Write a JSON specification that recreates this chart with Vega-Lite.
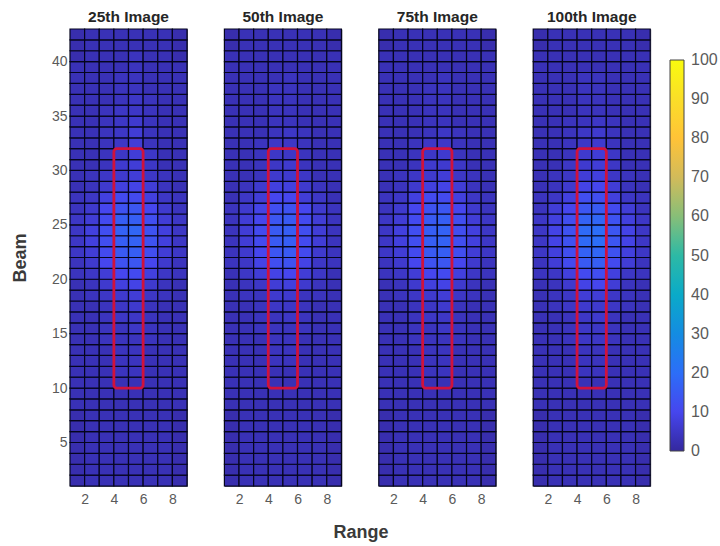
{"$schema":"https://vega.github.io/schema/vega-lite/v6.json","background":"white","autosize":{"type":"pad"},"bounds":"flush","padding":{"left":10,"top":9,"right":0,"bottom":2},"config":{"font":"Liberation Sans","view":{"stroke":"#55556a","strokeWidth":1},"axis":{"ticks":false,"grid":false,"domain":false,"labelColor":"#5a5a5a","labelFontSize":14,"labelFont":"Liberation Sans","titleFont":"Liberation Sans","titleFontWeight":"bold","titleFontSize":18,"titleColor":"#3a3a3a"},"title":{"font":"Liberation Sans","fontWeight":"bold","fontSize":15.5,"color":"#262626","offset":3},"legend":{"labelFont":"Liberation Sans","labelFontSize":16,"labelColor":"#5a5a5a"}},"datasets":{"cells":[
{"x":1,"x2":2,"y":1,"y2":2,"a":2,"b":2,"c":2,"d":2},{"x":2,"x2":3,"y":1,"y2":2,"a":3,"b":3,"c":3,"d":3},{"x":3,"x2":4,"y":1,"y2":2,"a":3,"b":3,"c":3,"d":3},{"x":4,"x2":5,"y":1,"y2":2,"a":3,"b":3,"c":3,"d":3},{"x":5,"x2":6,"y":1,"y2":2,"a":3,"b":3,"c":3,"d":3},{"x":6,"x2":7,"y":1,"y2":2,"a":3,"b":3,"c":3,"d":3},{"x":7,"x2":8,"y":1,"y2":2,"a":3,"b":3,"c":3,"d":3},{"x":8,"x2":9,"y":1,"y2":2,"a":2,"b":2,"c":2,"d":2},
{"x":1,"x2":2,"y":2,"y2":3,"a":2,"b":2,"c":2,"d":2},{"x":2,"x2":3,"y":2,"y2":3,"a":3,"b":3,"c":3,"d":3},{"x":3,"x2":4,"y":2,"y2":3,"a":3,"b":3,"c":3,"d":3},{"x":4,"x2":5,"y":2,"y2":3,"a":3,"b":3,"c":3,"d":3},{"x":5,"x2":6,"y":2,"y2":3,"a":3,"b":3,"c":3,"d":3},{"x":6,"x2":7,"y":2,"y2":3,"a":3,"b":3,"c":3,"d":3},{"x":7,"x2":8,"y":2,"y2":3,"a":3,"b":3,"c":3,"d":3},{"x":8,"x2":9,"y":2,"y2":3,"a":2,"b":2,"c":2,"d":2},
{"x":1,"x2":2,"y":3,"y2":4,"a":2,"b":2,"c":2,"d":2},{"x":2,"x2":3,"y":3,"y2":4,"a":3,"b":3,"c":3,"d":3},{"x":3,"x2":4,"y":3,"y2":4,"a":3,"b":3,"c":3,"d":3},{"x":4,"x2":5,"y":3,"y2":4,"a":3,"b":3,"c":3,"d":3},{"x":5,"x2":6,"y":3,"y2":4,"a":3,"b":3,"c":3,"d":3},{"x":6,"x2":7,"y":3,"y2":4,"a":3,"b":3,"c":3,"d":3},{"x":7,"x2":8,"y":3,"y2":4,"a":3,"b":3,"c":3,"d":3},{"x":8,"x2":9,"y":3,"y2":4,"a":2,"b":2,"c":2,"d":2},
{"x":1,"x2":2,"y":4,"y2":5,"a":2,"b":2,"c":2,"d":2},{"x":2,"x2":3,"y":4,"y2":5,"a":3,"b":3,"c":3,"d":3},{"x":3,"x2":4,"y":4,"y2":5,"a":3,"b":3,"c":3,"d":3},{"x":4,"x2":5,"y":4,"y2":5,"a":3,"b":3,"c":3,"d":3},{"x":5,"x2":6,"y":4,"y2":5,"a":3,"b":3,"c":3,"d":3},{"x":6,"x2":7,"y":4,"y2":5,"a":3,"b":3,"c":3,"d":3},{"x":7,"x2":8,"y":4,"y2":5,"a":3,"b":3,"c":3,"d":3},{"x":8,"x2":9,"y":4,"y2":5,"a":2,"b":2,"c":2,"d":2},
{"x":1,"x2":2,"y":5,"y2":6,"a":2,"b":2,"c":2,"d":2},{"x":2,"x2":3,"y":5,"y2":6,"a":3,"b":3,"c":3,"d":3},{"x":3,"x2":4,"y":5,"y2":6,"a":3,"b":3,"c":3,"d":3},{"x":4,"x2":5,"y":5,"y2":6,"a":3,"b":3,"c":3,"d":3},{"x":5,"x2":6,"y":5,"y2":6,"a":3,"b":3,"c":3,"d":3},{"x":6,"x2":7,"y":5,"y2":6,"a":3,"b":3,"c":3,"d":3},{"x":7,"x2":8,"y":5,"y2":6,"a":3,"b":3,"c":3,"d":3},{"x":8,"x2":9,"y":5,"y2":6,"a":2,"b":2,"c":2,"d":2},
{"x":1,"x2":2,"y":6,"y2":7,"a":2,"b":2,"c":2,"d":2},{"x":2,"x2":3,"y":6,"y2":7,"a":3,"b":3,"c":3,"d":3},{"x":3,"x2":4,"y":6,"y2":7,"a":3,"b":3,"c":3,"d":3},{"x":4,"x2":5,"y":6,"y2":7,"a":3,"b":3,"c":3,"d":3},{"x":5,"x2":6,"y":6,"y2":7,"a":3,"b":3,"c":3,"d":3},{"x":6,"x2":7,"y":6,"y2":7,"a":3,"b":3,"c":3,"d":3},{"x":7,"x2":8,"y":6,"y2":7,"a":3,"b":3,"c":3,"d":3},{"x":8,"x2":9,"y":6,"y2":7,"a":2,"b":2,"c":2,"d":2},
{"x":1,"x2":2,"y":7,"y2":8,"a":2,"b":2,"c":2,"d":2},{"x":2,"x2":3,"y":7,"y2":8,"a":3,"b":3,"c":3,"d":3},{"x":3,"x2":4,"y":7,"y2":8,"a":3,"b":3,"c":3,"d":3},{"x":4,"x2":5,"y":7,"y2":8,"a":3,"b":3,"c":3,"d":3},{"x":5,"x2":6,"y":7,"y2":8,"a":3,"b":3,"c":3,"d":3},{"x":6,"x2":7,"y":7,"y2":8,"a":3,"b":3,"c":3,"d":3},{"x":7,"x2":8,"y":7,"y2":8,"a":3,"b":3,"c":3,"d":3},{"x":8,"x2":9,"y":7,"y2":8,"a":2,"b":2,"c":2,"d":2},
{"x":1,"x2":2,"y":8,"y2":9,"a":3,"b":3,"c":3,"d":3},{"x":2,"x2":3,"y":8,"y2":9,"a":3,"b":3,"c":3,"d":3},{"x":3,"x2":4,"y":8,"y2":9,"a":3,"b":3,"c":3,"d":3},{"x":4,"x2":5,"y":8,"y2":9,"a":3,"b":3,"c":3,"d":3},{"x":5,"x2":6,"y":8,"y2":9,"a":3,"b":3,"c":3,"d":3},{"x":6,"x2":7,"y":8,"y2":9,"a":3,"b":3,"c":3,"d":3},{"x":7,"x2":8,"y":8,"y2":9,"a":3,"b":3,"c":3,"d":3},{"x":8,"x2":9,"y":8,"y2":9,"a":3,"b":3,"c":3,"d":3},
{"x":1,"x2":2,"y":9,"y2":10,"a":3,"b":3,"c":3,"d":3},{"x":2,"x2":3,"y":9,"y2":10,"a":3,"b":3,"c":3,"d":3},{"x":3,"x2":4,"y":9,"y2":10,"a":3,"b":3,"c":3,"d":3},{"x":4,"x2":5,"y":9,"y2":10,"a":3,"b":3,"c":3,"d":3},{"x":5,"x2":6,"y":9,"y2":10,"a":3,"b":3,"c":3,"d":3},{"x":6,"x2":7,"y":9,"y2":10,"a":3,"b":3,"c":3,"d":3},{"x":7,"x2":8,"y":9,"y2":10,"a":3,"b":3,"c":3,"d":3},{"x":8,"x2":9,"y":9,"y2":10,"a":3,"b":3,"c":3,"d":3},
{"x":1,"x2":2,"y":10,"y2":11,"a":3,"b":3,"c":3,"d":3},{"x":2,"x2":3,"y":10,"y2":11,"a":3,"b":3,"c":3,"d":3},{"x":3,"x2":4,"y":10,"y2":11,"a":3,"b":3,"c":3,"d":3},{"x":4,"x2":5,"y":10,"y2":11,"a":3,"b":3,"c":3,"d":3},{"x":5,"x2":6,"y":10,"y2":11,"a":3,"b":3,"c":3,"d":3},{"x":6,"x2":7,"y":10,"y2":11,"a":3,"b":3,"c":3,"d":3},{"x":7,"x2":8,"y":10,"y2":11,"a":3,"b":3,"c":3,"d":3},{"x":8,"x2":9,"y":10,"y2":11,"a":3,"b":3,"c":3,"d":3},
{"x":1,"x2":2,"y":11,"y2":12,"a":3,"b":3,"c":3,"d":3},{"x":2,"x2":3,"y":11,"y2":12,"a":3,"b":3,"c":3,"d":3},{"x":3,"x2":4,"y":11,"y2":12,"a":3,"b":3,"c":3,"d":3},{"x":4,"x2":5,"y":11,"y2":12,"a":4,"b":3,"c":4,"d":4},{"x":5,"x2":6,"y":11,"y2":12,"a":4,"b":3,"c":4,"d":4},{"x":6,"x2":7,"y":11,"y2":12,"a":3,"b":3,"c":3,"d":3},{"x":7,"x2":8,"y":11,"y2":12,"a":3,"b":3,"c":3,"d":3},{"x":8,"x2":9,"y":11,"y2":12,"a":3,"b":3,"c":3,"d":3},
{"x":1,"x2":2,"y":12,"y2":13,"a":3,"b":3,"c":3,"d":3},{"x":2,"x2":3,"y":12,"y2":13,"a":3,"b":3,"c":3,"d":3},{"x":3,"x2":4,"y":12,"y2":13,"a":3,"b":3,"c":3,"d":3},{"x":4,"x2":5,"y":12,"y2":13,"a":4,"b":4,"c":4,"d":4},{"x":5,"x2":6,"y":12,"y2":13,"a":4,"b":4,"c":4,"d":4},{"x":6,"x2":7,"y":12,"y2":13,"a":3,"b":3,"c":3,"d":3},{"x":7,"x2":8,"y":12,"y2":13,"a":3,"b":3,"c":3,"d":3},{"x":8,"x2":9,"y":12,"y2":13,"a":3,"b":3,"c":3,"d":3},
{"x":1,"x2":2,"y":13,"y2":14,"a":3,"b":3,"c":3,"d":3},{"x":2,"x2":3,"y":13,"y2":14,"a":3,"b":3,"c":3,"d":3},{"x":3,"x2":4,"y":13,"y2":14,"a":3,"b":3,"c":3,"d":3},{"x":4,"x2":5,"y":13,"y2":14,"a":4,"b":4,"c":4,"d":4},{"x":5,"x2":6,"y":13,"y2":14,"a":4,"b":4,"c":4,"d":4},{"x":6,"x2":7,"y":13,"y2":14,"a":3,"b":3,"c":3,"d":3},{"x":7,"x2":8,"y":13,"y2":14,"a":3,"b":3,"c":3,"d":3},{"x":8,"x2":9,"y":13,"y2":14,"a":3,"b":3,"c":3,"d":3},
{"x":1,"x2":2,"y":14,"y2":15,"a":3,"b":3,"c":3,"d":3},{"x":2,"x2":3,"y":14,"y2":15,"a":3,"b":3,"c":3,"d":3},{"x":3,"x2":4,"y":14,"y2":15,"a":4,"b":3,"c":4,"d":4},{"x":4,"x2":5,"y":14,"y2":15,"a":4,"b":4,"c":4,"d":5},{"x":5,"x2":6,"y":14,"y2":15,"a":4,"b":4,"c":4,"d":5},{"x":6,"x2":7,"y":14,"y2":15,"a":4,"b":3,"c":4,"d":4},{"x":7,"x2":8,"y":14,"y2":15,"a":3,"b":3,"c":3,"d":3},{"x":8,"x2":9,"y":14,"y2":15,"a":3,"b":3,"c":3,"d":3},
{"x":1,"x2":2,"y":15,"y2":16,"a":3,"b":3,"c":3,"d":3},{"x":2,"x2":3,"y":15,"y2":16,"a":3,"b":3,"c":3,"d":3},{"x":3,"x2":4,"y":15,"y2":16,"a":4,"b":4,"c":4,"d":4},{"x":4,"x2":5,"y":15,"y2":16,"a":4,"b":4,"c":4,"d":5},{"x":5,"x2":6,"y":15,"y2":16,"a":5,"b":4,"c":5,"d":5},{"x":6,"x2":7,"y":15,"y2":16,"a":4,"b":4,"c":4,"d":4},{"x":7,"x2":8,"y":15,"y2":16,"a":3,"b":3,"c":3,"d":3},{"x":8,"x2":9,"y":15,"y2":16,"a":3,"b":3,"c":3,"d":3},
{"x":1,"x2":2,"y":16,"y2":17,"a":3,"b":3,"c":3,"d":3},{"x":2,"x2":3,"y":16,"y2":17,"a":3,"b":3,"c":3,"d":3},{"x":3,"x2":4,"y":16,"y2":17,"a":4,"b":4,"c":4,"d":4},{"x":4,"x2":5,"y":16,"y2":17,"a":5,"b":4,"c":5,"d":5},{"x":5,"x2":6,"y":16,"y2":17,"a":5,"b":5,"c":5,"d":6},{"x":6,"x2":7,"y":16,"y2":17,"a":4,"b":4,"c":4,"d":4},{"x":7,"x2":8,"y":16,"y2":17,"a":3,"b":3,"c":3,"d":3},{"x":8,"x2":9,"y":16,"y2":17,"a":3,"b":3,"c":3,"d":3},
{"x":1,"x2":2,"y":17,"y2":18,"a":3,"b":3,"c":3,"d":3},{"x":2,"x2":3,"y":17,"y2":18,"a":3,"b":3,"c":3,"d":4},{"x":3,"x2":4,"y":17,"y2":18,"a":4,"b":4,"c":4,"d":5},{"x":4,"x2":5,"y":17,"y2":18,"a":5,"b":5,"c":5,"d":6},{"x":5,"x2":6,"y":17,"y2":18,"a":6,"b":5,"c":6,"d":6},{"x":6,"x2":7,"y":17,"y2":18,"a":4,"b":4,"c":4,"d":5},{"x":7,"x2":8,"y":17,"y2":18,"a":3,"b":3,"c":3,"d":4},{"x":8,"x2":9,"y":17,"y2":18,"a":3,"b":3,"c":3,"d":3},
{"x":1,"x2":2,"y":18,"y2":19,"a":3,"b":3,"c":3,"d":3},{"x":2,"x2":3,"y":18,"y2":19,"a":4,"b":4,"c":4,"d":4},{"x":3,"x2":4,"y":18,"y2":19,"a":5,"b":4,"c":5,"d":5},{"x":4,"x2":5,"y":18,"y2":19,"a":6,"b":6,"c":6,"d":7},{"x":5,"x2":6,"y":18,"y2":19,"a":7,"b":6,"c":7,"d":7},{"x":6,"x2":7,"y":18,"y2":19,"a":5,"b":4,"c":5,"d":5},{"x":7,"x2":8,"y":18,"y2":19,"a":4,"b":4,"c":4,"d":4},{"x":8,"x2":9,"y":18,"y2":19,"a":3,"b":3,"c":3,"d":3},
{"x":1,"x2":2,"y":19,"y2":20,"a":3,"b":3,"c":3,"d":3},{"x":2,"x2":3,"y":19,"y2":20,"a":4,"b":4,"c":4,"d":4},{"x":3,"x2":4,"y":19,"y2":20,"a":6,"b":5,"c":6,"d":6},{"x":4,"x2":5,"y":19,"y2":20,"a":8,"b":7,"c":8,"d":9},{"x":5,"x2":6,"y":19,"y2":20,"a":9,"b":8,"c":9,"d":10},{"x":6,"x2":7,"y":19,"y2":20,"a":6,"b":6,"c":6,"d":7},{"x":7,"x2":8,"y":19,"y2":20,"a":4,"b":4,"c":4,"d":4},{"x":8,"x2":9,"y":19,"y2":20,"a":3,"b":3,"c":3,"d":3},
{"x":1,"x2":2,"y":20,"y2":21,"a":4,"b":3,"c":4,"d":4},{"x":2,"x2":3,"y":20,"y2":21,"a":5,"b":5,"c":5,"d":5},{"x":3,"x2":4,"y":20,"y2":21,"a":7,"b":7,"c":7,"d":8},{"x":4,"x2":5,"y":20,"y2":21,"a":10,"b":9,"c":10,"d":11},{"x":5,"x2":6,"y":20,"y2":21,"a":11,"b":10,"c":11,"d":12},{"x":6,"x2":7,"y":20,"y2":21,"a":8,"b":7,"c":8,"d":8},{"x":7,"x2":8,"y":20,"y2":21,"a":5,"b":5,"c":5,"d":5},{"x":8,"x2":9,"y":20,"y2":21,"a":4,"b":3,"c":4,"d":4},
{"x":1,"x2":2,"y":21,"y2":22,"a":4,"b":4,"c":4,"d":4},{"x":2,"x2":3,"y":21,"y2":22,"a":6,"b":5,"c":6,"d":7},{"x":3,"x2":4,"y":21,"y2":22,"a":10,"b":9,"c":10,"d":11},{"x":4,"x2":5,"y":21,"y2":22,"a":13,"b":12,"c":13,"d":15},{"x":5,"x2":6,"y":21,"y2":22,"a":14,"b":13,"c":14,"d":16},{"x":6,"x2":7,"y":21,"y2":22,"a":10,"b":9,"c":10,"d":11},{"x":7,"x2":8,"y":21,"y2":22,"a":6,"b":5,"c":6,"d":7},{"x":8,"x2":9,"y":21,"y2":22,"a":4,"b":4,"c":4,"d":4},
{"x":1,"x2":2,"y":22,"y2":23,"a":5,"b":4,"c":5,"d":5},{"x":2,"x2":3,"y":22,"y2":23,"a":7,"b":6,"c":7,"d":8},{"x":3,"x2":4,"y":22,"y2":23,"a":11,"b":10,"c":11,"d":12},{"x":4,"x2":5,"y":22,"y2":23,"a":15,"b":14,"c":15,"d":17},{"x":5,"x2":6,"y":22,"y2":23,"a":16,"b":15,"c":16,"d":18},{"x":6,"x2":7,"y":22,"y2":23,"a":12,"b":11,"c":12,"d":13},{"x":7,"x2":8,"y":22,"y2":23,"a":7,"b":6,"c":7,"d":8},{"x":8,"x2":9,"y":22,"y2":23,"a":5,"b":4,"c":5,"d":5},
{"x":1,"x2":2,"y":23,"y2":24,"a":5,"b":4,"c":5,"d":5},{"x":2,"x2":3,"y":23,"y2":24,"a":8,"b":7,"c":8,"d":9},{"x":3,"x2":4,"y":23,"y2":24,"a":12,"b":11,"c":12,"d":13},{"x":4,"x2":5,"y":23,"y2":24,"a":16,"b":15,"c":16,"d":19},{"x":5,"x2":6,"y":23,"y2":24,"a":17,"b":16,"c":17,"d":20},{"x":6,"x2":7,"y":23,"y2":24,"a":13,"b":11,"c":12,"d":14},{"x":7,"x2":8,"y":23,"y2":24,"a":8,"b":7,"c":8,"d":9},{"x":8,"x2":9,"y":23,"y2":24,"a":5,"b":4,"c":5,"d":5},
{"x":1,"x2":2,"y":24,"y2":25,"a":5,"b":4,"c":5,"d":5},{"x":2,"x2":3,"y":24,"y2":25,"a":8,"b":7,"c":8,"d":9},{"x":3,"x2":4,"y":24,"y2":25,"a":12,"b":11,"c":12,"d":13},{"x":4,"x2":5,"y":24,"y2":25,"a":17,"b":15,"c":16,"d":19},{"x":5,"x2":6,"y":24,"y2":25,"a":18,"b":16,"c":17,"d":20},{"x":6,"x2":7,"y":24,"y2":25,"a":13,"b":12,"c":12,"d":14},{"x":7,"x2":8,"y":24,"y2":25,"a":8,"b":7,"c":8,"d":9},{"x":8,"x2":9,"y":24,"y2":25,"a":5,"b":4,"c":5,"d":5},
{"x":1,"x2":2,"y":25,"y2":26,"a":5,"b":4,"c":5,"d":5},{"x":2,"x2":3,"y":25,"y2":26,"a":7,"b":7,"c":7,"d":8},{"x":3,"x2":4,"y":25,"y2":26,"a":11,"b":10,"c":11,"d":12},{"x":4,"x2":5,"y":25,"y2":26,"a":16,"b":14,"c":15,"d":17},{"x":5,"x2":6,"y":25,"y2":26,"a":16,"b":15,"c":16,"d":18},{"x":6,"x2":7,"y":25,"y2":26,"a":12,"b":11,"c":12,"d":13},{"x":7,"x2":8,"y":25,"y2":26,"a":7,"b":7,"c":7,"d":8},{"x":8,"x2":9,"y":25,"y2":26,"a":5,"b":4,"c":5,"d":5},
{"x":1,"x2":2,"y":26,"y2":27,"a":4,"b":4,"c":4,"d":4},{"x":2,"x2":3,"y":26,"y2":27,"a":6,"b":6,"c":6,"d":7},{"x":3,"x2":4,"y":26,"y2":27,"a":10,"b":9,"c":10,"d":10},{"x":4,"x2":5,"y":26,"y2":27,"a":13,"b":12,"c":13,"d":14},{"x":5,"x2":6,"y":26,"y2":27,"a":14,"b":13,"c":14,"d":15},{"x":6,"x2":7,"y":26,"y2":27,"a":10,"b":10,"c":10,"d":11},{"x":7,"x2":8,"y":26,"y2":27,"a":6,"b":6,"c":6,"d":7},{"x":8,"x2":9,"y":26,"y2":27,"a":4,"b":4,"c":4,"d":4},
{"x":1,"x2":2,"y":27,"y2":28,"a":4,"b":3,"c":4,"d":4},{"x":2,"x2":3,"y":27,"y2":28,"a":5,"b":5,"c":5,"d":5},{"x":3,"x2":4,"y":27,"y2":28,"a":8,"b":7,"c":8,"d":8},{"x":4,"x2":5,"y":27,"y2":28,"a":11,"b":10,"c":11,"d":12},{"x":5,"x2":6,"y":27,"y2":28,"a":11,"b":10,"c":11,"d":12},{"x":6,"x2":7,"y":27,"y2":28,"a":8,"b":7,"c":8,"d":8},{"x":7,"x2":8,"y":27,"y2":28,"a":5,"b":5,"c":5,"d":5},{"x":8,"x2":9,"y":27,"y2":28,"a":4,"b":3,"c":4,"d":4},
{"x":1,"x2":2,"y":28,"y2":29,"a":3,"b":3,"c":3,"d":3},{"x":2,"x2":3,"y":28,"y2":29,"a":4,"b":4,"c":4,"d":4},{"x":3,"x2":4,"y":28,"y2":29,"a":6,"b":6,"c":6,"d":6},{"x":4,"x2":5,"y":28,"y2":29,"a":8,"b":8,"c":8,"d":9},{"x":5,"x2":6,"y":28,"y2":29,"a":9,"b":8,"c":9,"d":10},{"x":6,"x2":7,"y":28,"y2":29,"a":7,"b":6,"c":7,"d":7},{"x":7,"x2":8,"y":28,"y2":29,"a":4,"b":4,"c":4,"d":4},{"x":8,"x2":9,"y":28,"y2":29,"a":3,"b":3,"c":3,"d":3},
{"x":1,"x2":2,"y":29,"y2":30,"a":3,"b":3,"c":3,"d":3},{"x":2,"x2":3,"y":29,"y2":30,"a":4,"b":3,"c":4,"d":4},{"x":3,"x2":4,"y":29,"y2":30,"a":5,"b":4,"c":5,"d":5},{"x":4,"x2":5,"y":29,"y2":30,"a":6,"b":6,"c":6,"d":7},{"x":5,"x2":6,"y":29,"y2":30,"a":7,"b":6,"c":7,"d":8},{"x":6,"x2":7,"y":29,"y2":30,"a":5,"b":5,"c":5,"d":5},{"x":7,"x2":8,"y":29,"y2":30,"a":4,"b":3,"c":4,"d":4},{"x":8,"x2":9,"y":29,"y2":30,"a":3,"b":3,"c":3,"d":3},
{"x":1,"x2":2,"y":30,"y2":31,"a":3,"b":3,"c":3,"d":3},{"x":2,"x2":3,"y":30,"y2":31,"a":3,"b":3,"c":3,"d":3},{"x":3,"x2":4,"y":30,"y2":31,"a":4,"b":4,"c":4,"d":5},{"x":4,"x2":5,"y":30,"y2":31,"a":6,"b":5,"c":6,"d":6},{"x":5,"x2":6,"y":30,"y2":31,"a":7,"b":6,"c":6,"d":7},{"x":6,"x2":7,"y":30,"y2":31,"a":5,"b":4,"c":5,"d":5},{"x":7,"x2":8,"y":30,"y2":31,"a":3,"b":3,"c":3,"d":3},{"x":8,"x2":9,"y":30,"y2":31,"a":3,"b":3,"c":3,"d":3},
{"x":1,"x2":2,"y":31,"y2":32,"a":3,"b":3,"c":3,"d":3},{"x":2,"x2":3,"y":31,"y2":32,"a":3,"b":3,"c":3,"d":3},{"x":3,"x2":4,"y":31,"y2":32,"a":4,"b":4,"c":4,"d":4},{"x":4,"x2":5,"y":31,"y2":32,"a":5,"b":5,"c":5,"d":6},{"x":5,"x2":6,"y":31,"y2":32,"a":7,"b":5,"c":6,"d":7},{"x":6,"x2":7,"y":31,"y2":32,"a":5,"b":4,"c":4,"d":5},{"x":7,"x2":8,"y":31,"y2":32,"a":3,"b":3,"c":3,"d":3},{"x":8,"x2":9,"y":31,"y2":32,"a":3,"b":3,"c":3,"d":3},
{"x":1,"x2":2,"y":32,"y2":33,"a":3,"b":3,"c":3,"d":3},{"x":2,"x2":3,"y":32,"y2":33,"a":3,"b":3,"c":3,"d":3},{"x":3,"x2":4,"y":32,"y2":33,"a":4,"b":4,"c":4,"d":4},{"x":4,"x2":5,"y":32,"y2":33,"a":5,"b":5,"c":5,"d":5},{"x":5,"x2":6,"y":32,"y2":33,"a":7,"b":5,"c":5,"d":6},{"x":6,"x2":7,"y":32,"y2":33,"a":4,"b":4,"c":4,"d":4},{"x":7,"x2":8,"y":32,"y2":33,"a":3,"b":3,"c":3,"d":3},{"x":8,"x2":9,"y":32,"y2":33,"a":3,"b":3,"c":3,"d":3},
{"x":1,"x2":2,"y":33,"y2":34,"a":3,"b":3,"c":3,"d":3},{"x":2,"x2":3,"y":33,"y2":34,"a":3,"b":3,"c":3,"d":3},{"x":3,"x2":4,"y":33,"y2":34,"a":4,"b":3,"c":3,"d":4},{"x":4,"x2":5,"y":33,"y2":34,"a":5,"b":4,"c":4,"d":5},{"x":5,"x2":6,"y":33,"y2":34,"a":7,"b":5,"c":5,"d":6},{"x":6,"x2":7,"y":33,"y2":34,"a":4,"b":4,"c":4,"d":4},{"x":7,"x2":8,"y":33,"y2":34,"a":3,"b":3,"c":3,"d":3},{"x":8,"x2":9,"y":33,"y2":34,"a":3,"b":3,"c":3,"d":3},
{"x":1,"x2":2,"y":34,"y2":35,"a":3,"b":3,"c":3,"d":3},{"x":2,"x2":3,"y":34,"y2":35,"a":3,"b":3,"c":3,"d":3},{"x":3,"x2":4,"y":34,"y2":35,"a":4,"b":3,"c":3,"d":4},{"x":4,"x2":5,"y":34,"y2":35,"a":5,"b":4,"c":4,"d":4},{"x":5,"x2":6,"y":34,"y2":35,"a":6,"b":4,"c":4,"d":5},{"x":6,"x2":7,"y":34,"y2":35,"a":4,"b":3,"c":3,"d":4},{"x":7,"x2":8,"y":34,"y2":35,"a":3,"b":3,"c":3,"d":3},{"x":8,"x2":9,"y":34,"y2":35,"a":3,"b":3,"c":3,"d":3},
{"x":1,"x2":2,"y":35,"y2":36,"a":3,"b":3,"c":3,"d":3},{"x":2,"x2":3,"y":35,"y2":36,"a":3,"b":3,"c":3,"d":3},{"x":3,"x2":4,"y":35,"y2":36,"a":4,"b":3,"c":3,"d":3},{"x":4,"x2":5,"y":35,"y2":36,"a":5,"b":4,"c":4,"d":4},{"x":5,"x2":6,"y":35,"y2":36,"a":5,"b":4,"c":4,"d":4},{"x":6,"x2":7,"y":35,"y2":36,"a":4,"b":3,"c":3,"d":3},{"x":7,"x2":8,"y":35,"y2":36,"a":3,"b":3,"c":3,"d":3},{"x":8,"x2":9,"y":35,"y2":36,"a":3,"b":3,"c":3,"d":3},
{"x":1,"x2":2,"y":36,"y2":37,"a":3,"b":3,"c":3,"d":3},{"x":2,"x2":3,"y":36,"y2":37,"a":3,"b":3,"c":3,"d":3},{"x":3,"x2":4,"y":36,"y2":37,"a":3,"b":3,"c":3,"d":3},{"x":4,"x2":5,"y":36,"y2":37,"a":4,"b":4,"c":4,"d":4},{"x":5,"x2":6,"y":36,"y2":37,"a":5,"b":4,"c":4,"d":4},{"x":6,"x2":7,"y":36,"y2":37,"a":4,"b":3,"c":3,"d":3},{"x":7,"x2":8,"y":36,"y2":37,"a":3,"b":3,"c":3,"d":3},{"x":8,"x2":9,"y":36,"y2":37,"a":3,"b":3,"c":3,"d":3},
{"x":1,"x2":2,"y":37,"y2":38,"a":3,"b":3,"c":3,"d":3},{"x":2,"x2":3,"y":37,"y2":38,"a":3,"b":3,"c":3,"d":3},{"x":3,"x2":4,"y":37,"y2":38,"a":3,"b":3,"c":3,"d":3},{"x":4,"x2":5,"y":37,"y2":38,"a":4,"b":4,"c":4,"d":4},{"x":5,"x2":6,"y":37,"y2":38,"a":4,"b":4,"c":4,"d":4},{"x":6,"x2":7,"y":37,"y2":38,"a":3,"b":3,"c":3,"d":3},{"x":7,"x2":8,"y":37,"y2":38,"a":3,"b":3,"c":3,"d":3},{"x":8,"x2":9,"y":37,"y2":38,"a":3,"b":3,"c":3,"d":3},
{"x":1,"x2":2,"y":38,"y2":39,"a":3,"b":3,"c":3,"d":3},{"x":2,"x2":3,"y":38,"y2":39,"a":3,"b":3,"c":3,"d":3},{"x":3,"x2":4,"y":38,"y2":39,"a":3,"b":3,"c":3,"d":3},{"x":4,"x2":5,"y":38,"y2":39,"a":4,"b":3,"c":3,"d":4},{"x":5,"x2":6,"y":38,"y2":39,"a":4,"b":4,"c":4,"d":4},{"x":6,"x2":7,"y":38,"y2":39,"a":3,"b":3,"c":3,"d":3},{"x":7,"x2":8,"y":38,"y2":39,"a":3,"b":3,"c":3,"d":3},{"x":8,"x2":9,"y":38,"y2":39,"a":3,"b":3,"c":3,"d":3},
{"x":1,"x2":2,"y":39,"y2":40,"a":3,"b":3,"c":3,"d":3},{"x":2,"x2":3,"y":39,"y2":40,"a":3,"b":3,"c":3,"d":3},{"x":3,"x2":4,"y":39,"y2":40,"a":3,"b":3,"c":3,"d":3},{"x":4,"x2":5,"y":39,"y2":40,"a":3,"b":3,"c":3,"d":3},{"x":5,"x2":6,"y":39,"y2":40,"a":4,"b":3,"c":3,"d":3},{"x":6,"x2":7,"y":39,"y2":40,"a":3,"b":3,"c":3,"d":3},{"x":7,"x2":8,"y":39,"y2":40,"a":3,"b":3,"c":3,"d":3},{"x":8,"x2":9,"y":39,"y2":40,"a":3,"b":3,"c":3,"d":3},
{"x":1,"x2":2,"y":40,"y2":41,"a":2,"b":3,"c":3,"d":3},{"x":2,"x2":3,"y":40,"y2":41,"a":3,"b":3,"c":3,"d":3},{"x":3,"x2":4,"y":40,"y2":41,"a":3,"b":3,"c":3,"d":3},{"x":4,"x2":5,"y":40,"y2":41,"a":3,"b":3,"c":3,"d":3},{"x":5,"x2":6,"y":40,"y2":41,"a":4,"b":3,"c":3,"d":3},{"x":6,"x2":7,"y":40,"y2":41,"a":3,"b":3,"c":3,"d":3},{"x":7,"x2":8,"y":40,"y2":41,"a":3,"b":3,"c":3,"d":3},{"x":8,"x2":9,"y":40,"y2":41,"a":2,"b":3,"c":3,"d":3},
{"x":1,"x2":2,"y":41,"y2":42,"a":2,"b":2,"c":2,"d":2},{"x":2,"x2":3,"y":41,"y2":42,"a":3,"b":3,"c":3,"d":3},{"x":3,"x2":4,"y":41,"y2":42,"a":3,"b":3,"c":3,"d":3},{"x":4,"x2":5,"y":41,"y2":42,"a":3,"b":3,"c":3,"d":3},{"x":5,"x2":6,"y":41,"y2":42,"a":3,"b":3,"c":3,"d":3},{"x":6,"x2":7,"y":41,"y2":42,"a":3,"b":3,"c":3,"d":3},{"x":7,"x2":8,"y":41,"y2":42,"a":3,"b":3,"c":3,"d":3},{"x":8,"x2":9,"y":41,"y2":42,"a":2,"b":2,"c":2,"d":2},
{"x":1,"x2":2,"y":42,"y2":43,"a":2,"b":2,"c":2,"d":2},{"x":2,"x2":3,"y":42,"y2":43,"a":3,"b":3,"c":3,"d":3},{"x":3,"x2":4,"y":42,"y2":43,"a":3,"b":3,"c":3,"d":3},{"x":4,"x2":5,"y":42,"y2":43,"a":3,"b":3,"c":3,"d":3},{"x":5,"x2":6,"y":42,"y2":43,"a":3,"b":3,"c":3,"d":3},{"x":6,"x2":7,"y":42,"y2":43,"a":3,"b":3,"c":3,"d":3},{"x":7,"x2":8,"y":42,"y2":43,"a":3,"b":3,"c":3,"d":3},{"x":8,"x2":9,"y":42,"y2":43,"a":2,"b":2,"c":2,"d":2}
],"box":[{"x":4,"x2":6,"y":10,"y2":32}]},
"spacing":37.4,
"hconcat":[
{"width":117,"height":457,"title":"25th Image","layer":[
{"data":{"name":"cells"},"mark":{"type":"rect","stroke":"#05051e","strokeWidth":1.2},"encoding":{"x":{"field":"x","type":"quantitative","scale":{"domain":[1,9],"nice":false,"zero":false},"axis":{"values":[2,4,6,8],"title":null,"labelPadding":6,"labelOverlap":false,"labelFlush":false}},"x2":{"field":"x2"},"y":{"field":"y","type":"quantitative","scale":{"domain":[1,43],"nice":false,"zero":false},"axis":{"values":[5,10,15,20,25,30,35,40],"title":"Beam","labelPadding":3,"titlePadding":22,"labelOverlap":false,"labelFlush":false}},"y2":{"field":"y2"},"color":{"field":"a","type":"quantitative","scale":{"domain":[0,10,20,30,40,50,60,70,80,90,100],"range":["#34289e","#4646ee","#2c6ef8","#148ce1","#0aaac8","#2db9a5","#87be78","#d2bb5a","#ffc337","#fade28","#f9fb0e"],"interpolate":"rgb"},"legend":{"title":null,"type":"gradient","orient":"none","legendX":600,"legendY":31,"gradientLength":391,"gradientThickness":14,"gradientStrokeColor":"#444444","gradientStrokeWidth":1,"values":[0,10,20,30,40,50,60,70,80,90,100],"labelOffset":7,"encoding":{"labels":{"baseline":{"value":"middle"}}}}}}},
{"data":{"name":"box"},"mark":{"type":"rect","fill":null,"stroke":"#d0123c","strokeWidth":2.8,"cornerRadius":3},"encoding":{"x":{"field":"x","type":"quantitative","scale":{"domain":[1,9],"nice":false,"zero":false},"axis":{"values":[2,4,6,8],"title":null,"labelPadding":6,"labelOverlap":false,"labelFlush":false}},"x2":{"field":"x2"},"y":{"field":"y","type":"quantitative","scale":{"domain":[1,43],"nice":false,"zero":false},"axis":{"values":[5,10,15,20,25,30,35,40],"title":"Beam","labelPadding":3,"titlePadding":22,"labelOverlap":false,"labelFlush":false}},"y2":{"field":"y2"}}}]},
{"width":117,"height":457,"title":"50th Image","layer":[
{"data":{"name":"cells"},"mark":{"type":"rect","stroke":"#05051e","strokeWidth":1.2},"encoding":{"x":{"field":"x","type":"quantitative","scale":{"domain":[1,9],"nice":false,"zero":false},"axis":{"values":[2,4,6,8],"labelPadding":6,"labelOverlap":false,"labelFlush":false,"title":"Range","titleX":136,"titleY":37}},"x2":{"field":"x2"},"y":{"field":"y","type":"quantitative","scale":{"domain":[1,43],"nice":false,"zero":false},"axis":null},"y2":{"field":"y2"},"color":{"field":"b","type":"quantitative","scale":{"domain":[0,10,20,30,40,50,60,70,80,90,100],"range":["#34289e","#4646ee","#2c6ef8","#148ce1","#0aaac8","#2db9a5","#87be78","#d2bb5a","#ffc337","#fade28","#f9fb0e"],"interpolate":"rgb"},"legend":null}}},
{"data":{"name":"box"},"mark":{"type":"rect","fill":null,"stroke":"#d0123c","strokeWidth":2.8,"cornerRadius":3},"encoding":{"x":{"field":"x","type":"quantitative","scale":{"domain":[1,9],"nice":false,"zero":false},"axis":{"values":[2,4,6,8],"labelPadding":6,"labelOverlap":false,"labelFlush":false,"title":"Range","titleX":136,"titleY":37}},"x2":{"field":"x2"},"y":{"field":"y","type":"quantitative","scale":{"domain":[1,43],"nice":false,"zero":false},"axis":null},"y2":{"field":"y2"}}}]},
{"width":117,"height":457,"title":"75th Image","layer":[
{"data":{"name":"cells"},"mark":{"type":"rect","stroke":"#05051e","strokeWidth":1.2},"encoding":{"x":{"field":"x","type":"quantitative","scale":{"domain":[1,9],"nice":false,"zero":false},"axis":{"values":[2,4,6,8],"title":null,"labelPadding":6,"labelOverlap":false,"labelFlush":false}},"x2":{"field":"x2"},"y":{"field":"y","type":"quantitative","scale":{"domain":[1,43],"nice":false,"zero":false},"axis":null},"y2":{"field":"y2"},"color":{"field":"c","type":"quantitative","scale":{"domain":[0,10,20,30,40,50,60,70,80,90,100],"range":["#34289e","#4646ee","#2c6ef8","#148ce1","#0aaac8","#2db9a5","#87be78","#d2bb5a","#ffc337","#fade28","#f9fb0e"],"interpolate":"rgb"},"legend":null}}},
{"data":{"name":"box"},"mark":{"type":"rect","fill":null,"stroke":"#d0123c","strokeWidth":2.8,"cornerRadius":3},"encoding":{"x":{"field":"x","type":"quantitative","scale":{"domain":[1,9],"nice":false,"zero":false},"axis":{"values":[2,4,6,8],"title":null,"labelPadding":6,"labelOverlap":false,"labelFlush":false}},"x2":{"field":"x2"},"y":{"field":"y","type":"quantitative","scale":{"domain":[1,43],"nice":false,"zero":false},"axis":null},"y2":{"field":"y2"}}}]},
{"width":117,"height":457,"title":"100th Image","layer":[
{"data":{"name":"cells"},"mark":{"type":"rect","stroke":"#05051e","strokeWidth":1.2},"encoding":{"x":{"field":"x","type":"quantitative","scale":{"domain":[1,9],"nice":false,"zero":false},"axis":{"values":[2,4,6,8],"title":null,"labelPadding":6,"labelOverlap":false,"labelFlush":false}},"x2":{"field":"x2"},"y":{"field":"y","type":"quantitative","scale":{"domain":[1,43],"nice":false,"zero":false},"axis":null},"y2":{"field":"y2"},"color":{"field":"d","type":"quantitative","scale":{"domain":[0,10,20,30,40,50,60,70,80,90,100],"range":["#34289e","#4646ee","#2c6ef8","#148ce1","#0aaac8","#2db9a5","#87be78","#d2bb5a","#ffc337","#fade28","#f9fb0e"],"interpolate":"rgb"},"legend":null}}},
{"data":{"name":"box"},"mark":{"type":"rect","fill":null,"stroke":"#d0123c","strokeWidth":2.8,"cornerRadius":3},"encoding":{"x":{"field":"x","type":"quantitative","scale":{"domain":[1,9],"nice":false,"zero":false},"axis":{"values":[2,4,6,8],"title":null,"labelPadding":6,"labelOverlap":false,"labelFlush":false}},"x2":{"field":"x2"},"y":{"field":"y","type":"quantitative","scale":{"domain":[1,43],"nice":false,"zero":false},"axis":null},"y2":{"field":"y2"}}}]}
]}
